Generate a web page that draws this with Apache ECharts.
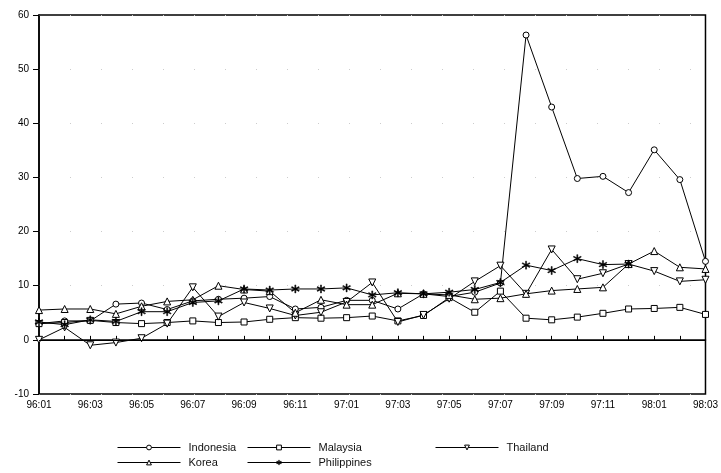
<!DOCTYPE html>
<html>
<head>
<meta charset="utf-8">
<script src="https://cdn.jsdelivr.net/npm/echarts@6/dist/echarts.min.js"></script>
<style>
  html, body { margin: 0; padding: 0; background: #fff; }
  #chart { width: 721px; height: 473px; }
</style>
</head>
<body>
<div id="chart"></div>
<script>
// Monthly observations, 1996:01 – 1998:03
const months = [
  '96:01','96:02','96:03','96:04','96:05','96:06','96:07','96:08','96:09','96:10','96:11','96:12',
  '97:01','97:02','97:03','97:04','97:05','97:06','97:07','97:08','97:09','97:10','97:11','97:12',
  '98:01','98:02','98:03'
];

const indonesia = [3.0, 3.5, 3.5, 6.6, 6.8, 5.6, 7.2, 7.5, 7.7, 8.0, 5.7, 6.0,
  7.3, 7.3, 5.7, 8.5, 8.0, 8.8, 10.5, 56.3, 43.0, 29.8, 30.2, 27.2,
  35.1, 29.6, 14.5];
const malaysia = [3.0, 3.2, 3.6, 3.2, 3.0, 3.2, 3.5, 3.2, 3.3, 3.8, 4.1, 4.0,
  4.1, 4.4, 3.5, 4.5, 7.8, 5.1, 9.0, 4.0, 3.7, 4.2, 4.9, 5.7,
  5.8, 6.0, 4.7];
const thailand = [0.0, 2.3, -1.0, -0.5, 0.3, 3.0, 9.7, 4.3, 6.9, 5.8, 4.5, 5.1,
  7.0, 10.6, 3.3, 4.6, 7.6, 10.8, 13.7, 8.5, 16.7, 11.2, 12.3, 14.0,
  12.7, 10.8, 11.1];
const korea = [5.5, 5.7, 5.7, 4.8, 6.2, 7.1, 7.4, 10.0, 9.3, 9.0, 5.0, 7.4,
  6.5, 6.5, 8.6, 8.5, 8.3, 7.5, 7.7, 8.5, 9.1, 9.4, 9.7, 14.0,
  16.4, 13.4, 13.1];
const philippines = [3.3, 2.8, 3.7, 3.4, 5.2, 5.2, 6.9, 7.2, 9.4, 9.2, 9.4, 9.4,
  9.6, 8.3, 8.7, 8.5, 8.8, 9.3, 10.6, 13.8, 12.8, 15.0, 13.9, 14.0,
  '-', '-', '-'];

const yMin = -10, yMax = 60, yStep = 10;

// Marker shapes
const downTriangle = 'path://M0,0 L10,0 L5,9 Z';
const asterisk = 'path://M-0.6,-5 L0.6,-5 L0.6,5 L-0.6,5 Z ' +
  'M-4.63,-1.98 L-4.03,-3.02 L4.63,1.98 L4.03,3.02 Z ' +
  'M-4.03,3.02 L-4.63,1.98 L4.03,-3.02 L4.63,-1.98 Z';

const FONT = 'Liberation Sans, Arial, sans-serif';

const hollow = { color: '#fff', borderColor: '#000', borderWidth: 1 };
const solid = { color: '#000', borderColor: '#000', borderWidth: 0.5 };

function makeSeries(name, data, symbol, size, filled) {
  return {
    name: name,
    type: 'line',
    data: data,
    symbol: symbol,
    symbolSize: size,
    showAllSymbol: true,
    connectNulls: false,
    animation: false,
    lineStyle: { color: '#000', width: 1 },
    itemStyle: filled ? solid : hollow,
    emphasis: { disabled: true }
  };
}

const series = [
  makeSeries('Indonesia', indonesia, 'circle', 6, false),
  makeSeries('Malaysia', malaysia, 'rect', 6, false),
  makeSeries('Thailand', thailand, downTriangle, 7, false),
  makeSeries('Korea', korea, 'triangle', 7, false),
  makeSeries('Philippines', philippines, asterisk, 8, true)
];

// Solid reference line at zero
series[0].markLine = {
  silent: true,
  symbol: ['none', 'none'],
  label: { show: false },
  lineStyle: { color: '#000', width: 1.2, type: 'solid' },
  data: [{ yAxis: 0 }]
};

function legendAt(name, left, top, filled) {
  return {
    data: [name],
    left: left,
    top: top,
    padding: 0,
    itemWidth: 63,
    itemHeight: 6,
    itemGap: 0,
    selectedMode: false,
    itemStyle: filled ? solid : hollow,
    lineStyle: { color: '#000', width: 1 },
    textStyle: { fontFamily: FONT, fontSize: 11, color: '#111', padding: [0, 0, 0, 3] }
  };
}

const chart = echarts.init(document.getElementById('chart'), null, { renderer: 'canvas' });
chart.setOption({
  backgroundColor: '#fff',
  animation: false,
  grid: {
    left: 39, right: 11, top: 15, bottom: 79,
    show: true, borderColor: '#000', borderWidth: 1.5, backgroundColor: 'transparent'
  },
  legend: [
    legendAt('Indonesia', 117, 442, false),
    legendAt('Malaysia', 247, 442, false),
    legendAt('Thailand', 435, 442, false),
    legendAt('Korea', 117, 457, false),
    legendAt('Philippines', 247, 457, true)
  ],
  xAxis: {
    type: 'category',
    data: months,
    boundaryGap: false,
    axisLine: { lineStyle: { color: '#000', width: 1.5 } },
    axisTick: { inside: true, length: 4, interval: 0, lineStyle: { color: '#000' } },
    axisLabel: { interval: 1, fontFamily: FONT, fontSize: 10, color: '#000', margin: 6 },
    splitLine: { show: false }
  },
  yAxis: {
    type: 'value',
    min: yMin, max: yMax, interval: yStep,
    axisLine: { show: true, lineStyle: { color: '#000', width: 1.5 } },
    axisTick: { show: true, inside: false, length: 6, lineStyle: { color: '#000' } },
    axisLabel: { fontFamily: FONT, fontSize: 10, color: '#000', margin: 10 },
    splitLine: { show: true, lineStyle: { color: '#ccc', width: 1, type: [1, 30] } }
  },
  series: series
});
</script>
</body>
</html>
